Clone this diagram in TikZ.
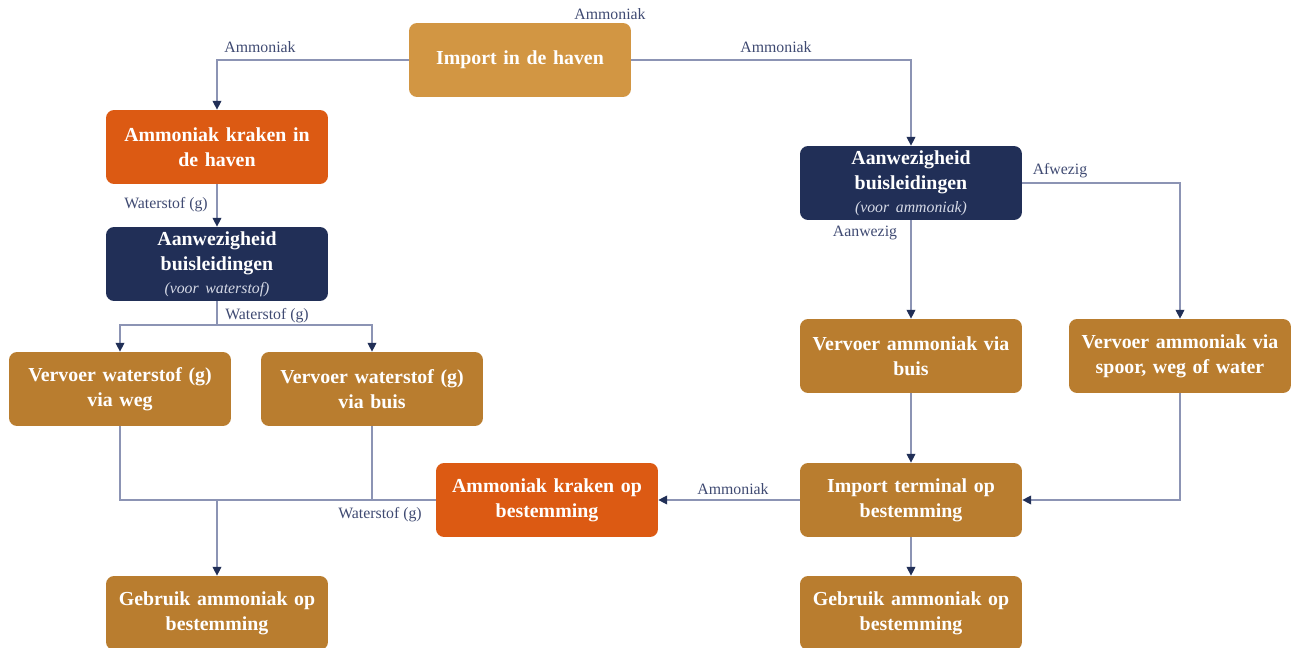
\documentclass[tikz,border=0pt]{standalone}
\usepackage{fontspec}
\setmainfont{Liberation Serif}
\usetikzlibrary{arrows.meta}
\definecolor{haven}{HTML}{D29643}
\definecolor{kraak}{HTML}{DC5A13}
\definecolor{navy}{HTML}{212F57}
\definecolor{bruin}{HTML}{B97D2F}
\definecolor{lijn}{HTML}{8C94B4}
\definecolor{tekst}{HTML}{3F4A72}
\definecolor{sub}{HTML}{D5D9E6}
\begin{document}
\begin{tikzpicture}[x=0.02cm,y=-0.02cm,
  box/.style={rounded corners=0.16cm,minimum width=4.44cm,minimum height=1.48cm,text width=4.3cm,align=center,text=white,font=\fontsize{11.3}{14.2}\selectfont\bfseries,inner sep=0pt},
  lbl/.style={text=tekst,font=\fontsize{9}{10}\selectfont,inner sep=1pt},
  line/.style={draw=lijn,line width=0.6pt},
  conn/.style={line,-{Triangle[length=5pt,width=5pt,color=navy]}}]
\useasboundingbox (0,0) rectangle (1295,648);
% boxes
\node[box,fill=haven] (import) at (520,60) {Import in de haven};
\node[box,fill=kraak] (kraakhaven) at (217,147) {Ammoniak kraken in\\de haven};
\node[box,fill=navy] (aanwzw) at (217,264) {Aanwezigheid\\buisleidingen\\[-1pt]{\fontsize{9}{10}\selectfont\mdseries\itshape\color{sub}(voor waterstof)}};
\node[box,fill=bruin] (wegw) at (120,389) {Vervoer waterstof (g)\\via weg};
\node[box,fill=bruin] (buisw) at (372,389) {Vervoer waterstof (g)\\via buis};
\node[box,fill=bruin] (gebruikl) at (217,613) {Gebruik ammoniak op\\bestemming};
\node[box,fill=kraak] (kraakbest) at (547,500) {Ammoniak kraken op\\bestemming};
\node[box,fill=navy] (aanwza) at (911,183) {Aanwezigheid\\buisleidingen\\[-1pt]{\fontsize{9}{10}\selectfont\mdseries\itshape\color{sub}(voor ammoniak)}};
\node[box,fill=bruin] (buisa) at (911,356) {Vervoer ammoniak via\\buis};
\node[box,fill=bruin] (spoora) at (1180,356) {Vervoer ammoniak via\\spoor, weg of water};
\node[box,fill=bruin] (terminal) at (911,500) {Import terminal op\\bestemming};
\node[box,fill=bruin] (gebruikr) at (911,613) {Gebruik ammoniak op\\bestemming};
% connectors
\coordinate (splitw) at (217,325);
\coordinate (samen) at (217,500);
\draw[conn] (import.west) -| (kraakhaven.north);
\draw[conn] (import.east) -| (aanwza.north);
\draw[conn] (kraakhaven.south) -- (aanwzw.north);
\draw[line] (aanwzw.south) -- (splitw);
\draw[conn] (splitw) -| (wegw.north);
\draw[conn] (splitw) -| (buisw.north);
\draw[line] (wegw.south) |- (kraakbest.west);
\draw[line] (buisw.south) -- (buisw.south |- samen);
\draw[conn] (samen) -- (gebruikl.north);
\draw[conn] (aanwza.south) -- (buisa.north);
\draw[conn] (aanwza.east) -| (spoora.north);
\draw[conn] (buisa.south) -- (terminal.north);
\draw[conn] (spoora.south) |- (terminal.east);
\draw[conn] (terminal.west) -- (kraakbest.east);
\draw[conn] (terminal.south) -- (gebruikr.north);
% labels
\node[lbl] (ltop) at (610,14) {Ammoniak};
\node[lbl] (l1) at (260,47) {Ammoniak};
\node[lbl] (l2) at (776,47) {Ammoniak};
\node[lbl] (l3) at (166,205) {Waterstof (g)};
\node[lbl] (l4) at (267,316) {Waterstof (g)};
\node[lbl] (l5) at (380,515) {Waterstof (g)};
\node[lbl] (l6) at (865,233) {Aanwezig};
\node[lbl] (l7) at (1060,171) {Afwezig};
\node[lbl] (l8) at (733,489) {Ammoniak};
\end{tikzpicture}
\end{document}
